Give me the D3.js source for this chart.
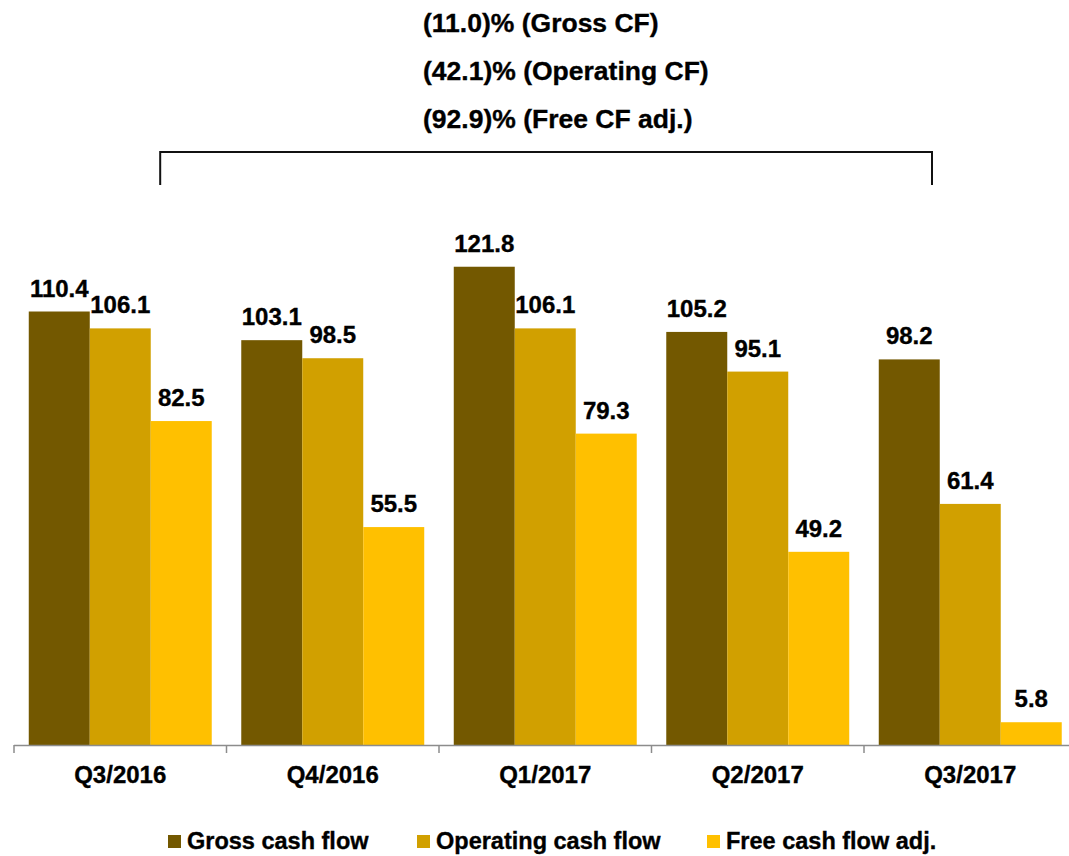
<!DOCTYPE html>
<html>
<head>
<meta charset="utf-8">
<script src="https://cdn.jsdelivr.net/npm/d3@7"></script>
<style>
  html, body { margin: 0; padding: 0; background: #fff; }
  svg { display: block; font-family: "Liberation Sans", Arial, sans-serif; font-weight: bold; }
  svg text { stroke: #000; stroke-width: 0.35px; }
</style>
</head>
<body>
<svg id="chart" width="1069" height="856"></svg>
<script>
// Quarterly cash flow figures
const categories = ["Q3/2016", "Q4/2016", "Q1/2017", "Q2/2017", "Q3/2017"];
const seriesNames = ["Gross cash flow", "Operating cash flow", "Free cash flow adj."];
const grossCF = [110.4, 103.1, 121.8, 105.2, 98.2];
const operatingCF = [106.1, 98.5, 106.1, 95.1, 61.4];
const freeCFAdj = [82.5, 55.5, 79.3, 49.2, 5.8];
const changeNotes = ["(11.0)% (Gross CF)", "(42.1)% (Operating CF)", "(92.9)% (Free CF adj.)"];

const colors = ["#735800", "#d1a000", "#ffc000"];
const seriesValues = [grossCF, operatingCF, freeCFAdj];

const svg = d3.select("#chart");

const baseY = 745;
const x = d3.scaleBand().domain(categories).range([14, 14 + 5 * 212.5]).padding(0);
const xs = d3.scaleBand().domain(seriesNames).range([0, x.bandwidth()]).paddingInner(0).paddingOuter(0.242);
const y = d3.scaleLinear().domain([0, 125]).range([baseY, baseY - 125 * 3.9266]);

const rows = categories.map((c, i) => ({
  cat: c,
  vals: seriesNames.map((s, j) => ({ series: s, value: seriesValues[j][i], color: colors[j] }))
}));

const groups = svg.selectAll("g.grp").data(rows).join("g")
  .attr("class", "grp")
  .attr("transform", d => `translate(${x(d.cat)},0)`);

groups.selectAll("rect").data(d => d.vals).join("rect")
  .attr("x", d => xs(d.series))
  .attr("y", d => y(d.value))
  .attr("width", xs.bandwidth())
  .attr("height", d => y(0) - y(d.value))
  .attr("fill", d => d.color);

groups.selectAll("text.val").data(d => d.vals).join("text")
  .attr("class", "val")
  .attr("x", d => xs(d.series) + xs.bandwidth() / 2)
  .attr("y", d => y(d.value) - 15)
  .attr("text-anchor", "middle")
  .attr("font-size", 24)
  .attr("fill", "#000")
  .text(d => d.value.toFixed(1));

// Category axis
const axis = svg.append("g").attr("transform", `translate(0,${baseY})`);
axis.append("line")
  .attr("x1", x.range()[0]).attr("x2", 1069)
  .attr("y1", 0.5).attr("y2", 0.5)
  .attr("stroke", "#8c8c8c").attr("stroke-width", 1.5);
axis.selectAll("line.tick").data(categories).join("line")
  .attr("class", "tick")
  .attr("x1", d => x(d)).attr("x2", d => x(d))
  .attr("y1", 0).attr("y2", 8)
  .attr("stroke", "#8c8c8c").attr("stroke-width", 1.5);
axis.selectAll("text").data(categories).join("text")
  .attr("x", d => x(d) + x.bandwidth() / 2)
  .attr("y", 38)
  .attr("text-anchor", "middle")
  .attr("font-size", 24)
  .attr("fill", "#000")
  .text(d => d);

// Bracket spanning first to last quarter
const bx1 = x(categories[0]) + 0.688 * x.bandwidth();
const bx2 = x(categories[categories.length - 1]) + 0.32 * x.bandwidth();
svg.append("path")
  .attr("d", `M${bx1},185 V152 H${bx2} V185`)
  .attr("fill", "none")
  .attr("stroke", "#111")
  .attr("stroke-width", 2);

// Year-over-year change notes
svg.selectAll("text.note").data(changeNotes).join("text")
  .attr("class", "note")
  .attr("x", 423)
  .attr("y", (d, i) => 31.5 + i * 48)
  .attr("font-size", 26.5)
  .attr("fill", "#000")
  .text(d => d);

// Legend
const legendX = [168, 417, 707];
const legend = svg.selectAll("g.leg").data(seriesNames).join("g")
  .attr("class", "leg")
  .attr("transform", (d, i) => `translate(${legendX[i]},835)`);
legend.append("rect")
  .attr("width", 13).attr("height", 13)
  .attr("fill", (d, i) => colors[i]);
legend.append("text")
  .attr("x", 19).attr("y", 14)
  .attr("font-size", 23.5)
  .attr("fill", "#000")
  .text(d => d);
</script>
</body>
</html>
